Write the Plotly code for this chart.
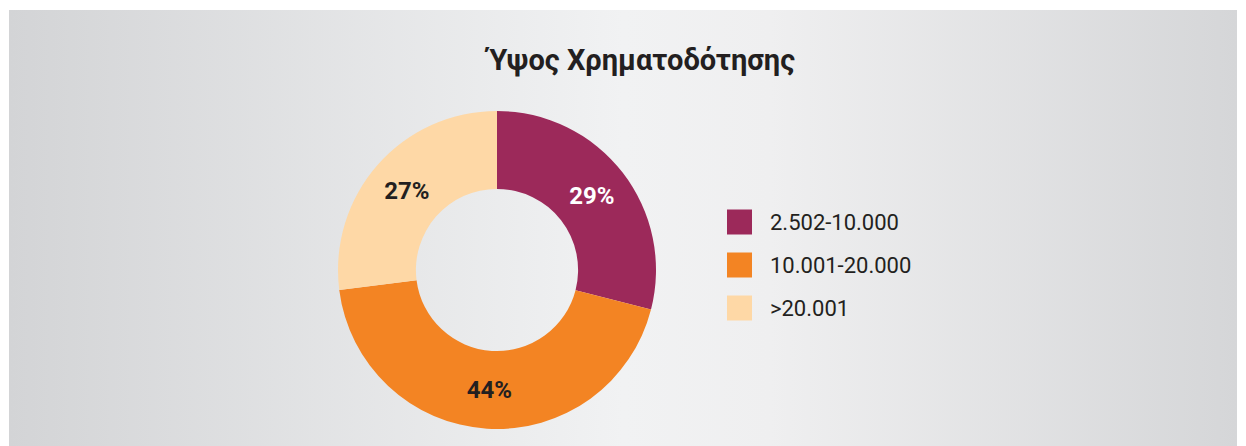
import base64
import plotly.graph_objects as go

# ---- data ----
title_text = "Ύψος Χρηματοδότησης"
categories = ["2.502-10.000", "10.001-20.000", ">20.001"]
shares = [29, 44, 27]
slice_colors = ["#9c295a", "#f38423", "#fed8a6"]
label_colors = ["#ffffff", "#231f20", "#231f20"]

W, H = 1246, 446

# background gradient panel (svg data uri)
svg = (
    '<svg xmlns="http://www.w3.org/2000/svg" width="1228" height="436" preserveAspectRatio="none">'
    '<defs><linearGradient id="g" x1="0" y1="0" x2="1" y2="0">'
    '<stop offset="0" stop-color="#d3d4d6"/>'
    '<stop offset="0.5" stop-color="#f1f2f3"/>'
    '<stop offset="0.62" stop-color="#efeff0"/>'
    '<stop offset="1" stop-color="#d5d6d8"/>'
    '</linearGradient></defs>'
    '<rect width="1228" height="436" fill="url(#g)"/></svg>'
)
bg_uri = "data:image/svg+xml;base64," + base64.b64encode(svg.encode()).decode()

fig = go.Figure()
fig.add_trace(go.Pie(
    labels=categories,
    values=shares,
    hole=0.51,
    sort=False,
    direction="clockwise",
    rotation=0,
    marker=dict(colors=slice_colors, line=dict(width=0)),
    texttemplate="%{value}%",
    textposition="inside",
    insidetextorientation="horizontal",
    textfont=dict(family="Roboto", size=24, color=label_colors, weight="bold"),
    showlegend=False,
    domain=dict(x=[338 / W, 656 / W], y=[1 - 429 / H, 1 - 111 / H]),
))

shapes = []
annotations = []
# legend swatches
for i, (cat, col) in enumerate(zip(categories, slice_colors)):
    yc = 222 + i * 43
    shapes.append(dict(type="rect", xref="paper", yref="paper",
                       x0=727 / W, x1=752 / W,
                       y0=1 - (yc + 12.5) / H, y1=1 - (yc - 12.5) / H,
                       fillcolor=col, line=dict(width=0), layer="above"))
    annotations.append(dict(text=cat, xref="paper", yref="paper",
                            x=768 / W, y=1 - yc / H, xanchor="left", yanchor="middle",
                            showarrow=False,
                            font=dict(family="Roboto", size=22, color="#231f20")))

annotations.append(dict(text="<b>" + title_text + "</b>", xref="paper", yref="paper",
                        x=639 / W, y=1 - 60 / H, xanchor="center", yanchor="middle",
                        showarrow=False,
                        font=dict(family="Roboto", size=29, color="#231f20")))

fig.update_layout(
    width=W, height=H,
    margin=dict(l=0, r=0, t=0, b=0),
    paper_bgcolor="#ffffff",
    plot_bgcolor="rgba(0,0,0,0)",
    shapes=shapes,
    annotations=annotations,
    images=[dict(source=bg_uri, xref="paper", yref="paper",
                 x=9 / W, y=1 - 10 / H, sizex=1228 / W, sizey=436 / H,
                 xanchor="left", yanchor="top", sizing="stretch", layer="below")],
)

fig.write_html("out.html",
               config={"displayModeBar": False},
               post_script="document.body.style.margin='0';document.body.style.overflow='hidden';")
